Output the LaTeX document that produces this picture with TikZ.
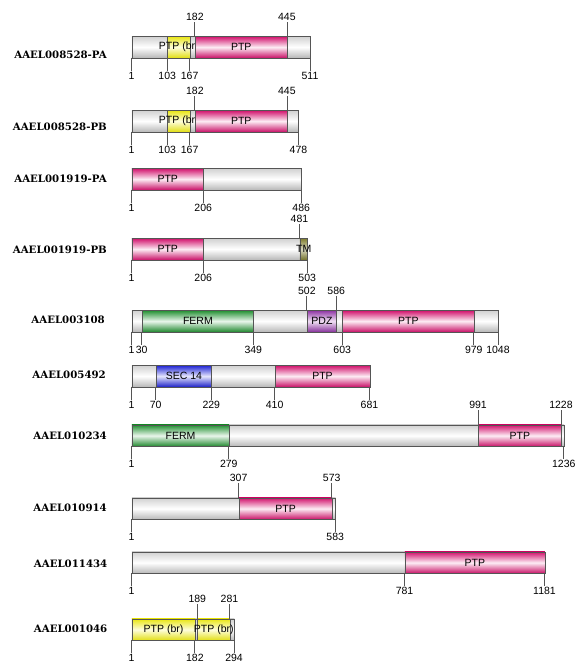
\documentclass[tikz,border=0pt]{standalone}
\usepackage{fontspec}
\setmainfont{Liberation Sans}
\newfontfamily\namefont{DejaVu Serif}
\usetikzlibrary{positioning}
\definecolor{ptpc}{RGB}{228,20,118}
\definecolor{fermc}{RGB}{38,160,55}
\definecolor{secc}{RGB}{35,40,235}
\definecolor{pdzc}{RGB}{158,58,182}
\definecolor{brc}{RGB}{245,242,20}
\definecolor{tmc}{RGB}{128,126,48}
\definecolor{edgec}{RGB}{85,85,85}
\newcommand{\rx}[1]{131.15+0.35*#1}
\newcommand{\pdomain}[6]{\node[dombox, #2, minimum width={(#4-#3)*0.35pt}, anchor=north west] (#1) at ({\rx{#3}},#5) {};
  \node[dtext] (#1-t) at (#1.center) {#6};}
\newcommand{\tickbelow}[4]{\coordinate (#1-e) at ({\rx{#2}},#3);
  \node[num] (#1) at ({\rx{#2}},#3+18.3) {#4};
  \draw[tickline] (#1-e) -- (#1.north);}
\newcommand{\tickabove}[4]{\coordinate (#1-e) at ({\rx{#2}},#3);
  \node[num] (#1) at ({\rx{#2}},#3-19.2) {#4};
  \draw[tickline] (#1-e) -- (#1.south);}

\begin{document}
\begin{tikzpicture}[
  x=1pt, y=-1pt,
  dombox/.style={draw=edgec, line width=0.8pt, inner sep=0pt, minimum height=21.5pt},
  dtext/.style={inner sep=0pt, font=\fontsize{10.5}{12}\selectfont},
  bar/.style={top color=black!18, bottom color=black!28, middle color=white},
  ptp/.style={top color=ptpc!92!black, bottom color=ptpc!88!black, middle color=ptpc!8!white},
  ferm/.style={top color=fermc!90!black, bottom color=fermc!85!black, middle color=fermc!10!white},
  sec/.style={top color=secc!90!black, bottom color=secc!85!black, middle color=secc!12!white},
  pdz/.style={top color=pdzc!90!black, bottom color=pdzc!85!black, middle color=pdzc!15!white},
  brbox/.style={top color=brc!95!black, bottom color=brc!92!black, middle color=brc!15!white},
  tm/.style={top color=tmc, bottom color=tmc!90!black, middle color=tmc!30!white},
  num/.style={inner sep=1.2pt, font=\fontsize{10.5}{12}\selectfont},
  tickline/.style={draw=edgec, line width=0.8pt},
  pname/.style={anchor=east, inner sep=0pt, font=\namefont\bfseries\fontsize{10.2}{12}\selectfont}
]
\useasboundingbox (0,0) rectangle (574,664);

\node[pname] (n1) at (107,55) {AAEL008528-PA};
\pdomain{b1}{bar}{1}{511}{36}{}
\pdomain{b1br}{brbox}{103}{167}{36}{PTP (br)}
\pdomain{b1ptp}{ptp}{182}{445}{36}{PTP}
\tickbelow{t1a}{1}{57.5}{1}
\tickbelow{t1b}{103}{57.5}{103}
\tickbelow{t1c}{167}{57.5}{167}
\tickbelow{t1d}{511}{57.5}{511}
\tickabove{t1e}{182}{36}{182}
\tickabove{t1f}{445}{36}{445}

\node[pname] (n2) at (107,127) {AAEL008528-PB};
\pdomain{b2}{bar}{1}{478}{110}{}
\pdomain{b2br}{brbox}{103}{167}{110}{PTP (br)}
\pdomain{b2ptp}{ptp}{182}{445}{110}{PTP}
\tickbelow{t2a}{1}{131.5}{1}
\tickbelow{t2b}{103}{131.5}{103}
\tickbelow{t2c}{167}{131.5}{167}
\tickbelow{t2d}{478}{131.5}{478}
\tickabove{t2e}{182}{110}{182}
\tickabove{t2f}{445}{110}{445}

\node[pname] (n3) at (107,178.3) {AAEL001919-PA};
\pdomain{b3}{bar}{1}{486}{168}{}
\pdomain{b3ptp}{ptp}{1}{206}{168}{PTP}
\tickbelow{t3a}{1}{189.5}{1}
\tickbelow{t3b}{206}{189.5}{206}
\tickbelow{t3c}{486}{189.5}{486}

\node[pname] (n4) at (107,249.3) {AAEL001919-PB};
\pdomain{b4}{bar}{1}{503}{238}{}
\pdomain{b4ptp}{ptp}{1}{206}{238}{PTP}
\pdomain{b4tm}{tm}{481}{503}{238}{TM}
\tickbelow{t4a}{1}{259.5}{1}
\tickbelow{t4b}{206}{259.5}{206}
\tickbelow{t4c}{503}{259.5}{503}
\tickabove{t4d}{481}{238}{481}

\node[pname] (n5) at (105,319.5) {AAEL003108};
\pdomain{b5}{bar}{1}{1048}{310}{}
\pdomain{b5ferm}{ferm}{30}{349}{310}{FERM}
\pdomain{b5pdz}{pdz}{502}{586}{310}{PDZ}
\pdomain{b5ptp}{ptp}{603}{979}{310}{PTP}
\tickbelow{t5a}{1}{331.5}{1}
\tickbelow{t5b}{30}{331.5}{30}
\tickbelow{t5c}{349}{331.5}{349}
\tickbelow{t5d}{603}{331.5}{603}
\tickbelow{t5e}{979}{331.5}{979}
\tickbelow{t5f}{1048}{331.5}{1048}
\tickabove{t5g}{502}{310}{502}
\tickabove{t5h}{586}{310}{586}

\node[pname] (n6) at (106,375) {AAEL005492};
\pdomain{b6}{bar}{1}{681}{365}{}
\pdomain{b6sec}{sec}{70}{229}{365}{SEC 14}
\pdomain{b6ptp}{ptp}{410}{681}{365}{PTP}
\tickbelow{t6a}{1}{386.5}{1}
\tickbelow{t6b}{70}{386.5}{70}
\tickbelow{t6c}{229}{386.5}{229}
\tickbelow{t6d}{410}{386.5}{410}
\tickbelow{t6e}{681}{386.5}{681}

\node[pname] (n7) at (107,435.3) {AAEL010234};
\pdomain{b7}{bar}{1}{1236}{424.5}{}
\pdomain{b7ferm}{ferm}{1}{279}{424.5}{FERM}
\pdomain{b7ptp}{ptp}{991}{1228}{424.5}{PTP}
\tickbelow{t7a}{1}{446}{1}
\tickbelow{t7b}{279}{446}{279}
\tickbelow{t7c}{1236}{446}{1236}
\tickabove{t7d}{991}{424.5}{991}
\tickabove{t7e}{1228}{424.5}{1228}

\node[pname] (n8) at (107,507.3) {AAEL010914};
\pdomain{b8}{bar}{1}{583}{497.5}{}
\pdomain{b8ptp}{ptp}{307}{573}{497.5}{PTP}
\tickbelow{t8a}{1}{519}{1}
\tickbelow{t8b}{583}{519}{583}
\tickabove{t8c}{307}{497.5}{307}
\tickabove{t8d}{573}{497.5}{573}

\node[pname] (n9) at (107.5,564) {AAEL011434};
\pdomain{b9}{bar}{1}{1181}{551.5}{}
\pdomain{b9ptp}{ptp}{781}{1181}{551.5}{PTP}
\tickbelow{t9a}{1}{573}{1}
\tickbelow{t9b}{781}{573}{781}
\tickbelow{t9c}{1181}{573}{1181}

\node[pname] (n10) at (107.5,628.3) {AAEL001046};
\pdomain{b10}{bar}{1}{294}{618.5}{}
\pdomain{b10br}{brbox}{1}{182}{618.5}{PTP (br)}
\pdomain{b10brb}{brbox}{189}{281}{618.5}{PTP (br)}
\tickbelow{t10a}{1}{640}{1}
\tickbelow{t10b}{182}{640}{182}
\tickbelow{t10c}{294}{640}{294}
\tickabove{t10d}{189}{618.5}{189}
\tickabove{t10e}{281}{618.5}{281}
\end{tikzpicture}
\end{document}
